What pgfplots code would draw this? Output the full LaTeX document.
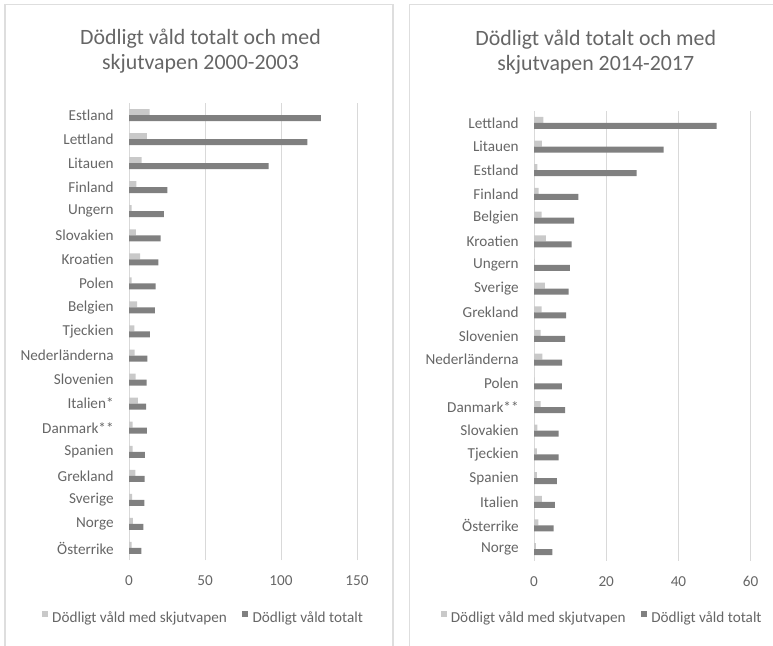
\documentclass[border=0pt]{standalone}
\usepackage{fontspec}
\setmainfont{Carlito}
\usepackage{pgfplots}
\usepackage{pgfplotstable}
\pgfplotsset{compat=1.18}
\definecolor{lightbar}{HTML}{C9C9C9}
\definecolor{darkbar}{HTML}{808080}
\definecolor{gridcol}{HTML}{D9D9D9}
\definecolor{bordercol}{HTML}{DEDEDE}
\definecolor{textcol}{HTML}{666666}

\pgfplotstableread{
y gun total
18 13.6 126.3
17 11.8 117.3
16 8.3 91.9
15 4.8 25.2
14 1.8 23.0
13 4.6 20.8
12 7.4 19.3
11 1.8 17.5
10 5.3 17.1
9 3.5 13.8
8 3.7 12.1
7 4.4 11.6
6 5.9 11.2
5 2.4 11.8
4 2.4 10.5
3 4.2 10.3
2 2.0 10.1
1 2.6 9.4
0 1.8 8.1
}\leftdata

\pgfplotstableread{
y gun total
18 2.6 50.6
17 2.2 35.9
16 0.9 28.4
15 1.3 12.3
14 2.1 11.1
13 3.3 10.4
12 0.2 9.9
11 3.0 9.6
10 2.1 8.9
9 1.8 8.6
8 2.3 7.8
7 0.2 7.7
6 1.8 8.6
5 0.9 6.8
4 0.8 6.8
3 0.8 6.3
2 2.2 5.8
1 1.2 5.4
0 0.5 5.1
}\rightdata

\pgfplotsset{
  panel/.style={
    scale only axis,
    anchor=south west,
    xbar,
    bar width=4.5pt,
    ymin=-0.5, ymax=18.5,
    xmin=0,
    ytick={0,...,18},
    axis line style={draw=none},
    major tick length=0pt,
    xmajorgrids=true,
    ymajorgrids=false,
    grid style={gridcol, line width=0.75pt},
    /pgf/number format/assume math mode=true,
    tick label style={font=\fontsize{11.4}{13}\selectfont, text=textcol},
    xticklabel style={yshift=-8pt},
    yticklabel style={xshift=-8pt},
    title style={align=center, anchor=center, font=\fontsize{16.4}{18.75}\selectfont, text=textcol},
    legend columns=2,
    legend style={draw=none, fill=none, anchor=center,
      font=\fontsize{11.4}{13}\selectfont, text=textcol,
      /tikz/every even column/.append style={column sep=10pt},
      nodes={inner sep=1.6pt}},
    legend image code/.code={\fill[##1,draw=none] (0pt,0.6pt) rectangle (4.5pt,5.1pt); \path (6pt,0.6pt);},
  },
  lightser/.style={fill=lightbar, draw=none, bar shift=2.25pt},
  darkser/.style={fill=darkbar, draw=none, bar shift=-2.25pt},
}

\begin{document}
\begin{tikzpicture}[x=1pt,y=1pt]
\clip (0,0) rectangle (579.75,483.75);
\draw[bordercol, line width=0.8pt] (3.75,-5) rectangle (294.75,480.4);
\draw[bordercol, line width=0.8pt] (306.9,-5) rectangle (600,480.4);

\begin{axis}[panel,
  at={(96.75pt,63.75pt)},
  width=171pt, height=342.75pt,
  xmax=150, xtick={0,50,100,150},
  yticklabels={Österrike,Norge,Sverige,Grekland,Spanien,Danmark**,Italien*,Slovenien,Nederländerna,Tjeckien,Belgien,Polen,Kroatien\hspace{2.5pt},Slovakien,Ungern,Finland,Litauen,Lettland,Estland},
  title={Dödligt våld totalt och med\\skjutvapen 2000-2003},
  title style={at={(0.3136,1.095)}},
  legend style={at={(0.327,-0.127)}},
]
\addplot[lightser] table[x=gun,y=y] {\leftdata};
\addplot[darkser] table[x=total,y=y] {\leftdata};
\legend{Dödligt våld med skjutvapen, Dödligt våld totalt}
\end{axis}

\begin{axis}[panel,
  at={(400.5pt,63pt)},
  width=162.5pt, height=337.5pt,
  xmax=60, xtick={0,20,40,60},
  yticklabels={Norge\hspace{2.5pt},Österrike,Italien,Spanien,Tjeckien,Slovakien,Danmark**,Polen,Nederländerna,Slovenien,Grekland,Sverige,Ungern,Kroatien\hspace{2.5pt},Belgien,Finland,Estland,Litauen,Lettland},
  title={Dödligt våld totalt och med\\skjutvapen 2014-2017},
  title style={at={(0.285,1.113)}},
  legend style={at={(0.315,-0.127)}},
]
\addplot[lightser] table[x=gun,y=y] {\rightdata};
\addplot[darkser] table[x=total,y=y] {\rightdata};
\legend{Dödligt våld med skjutvapen, Dödligt våld totalt}
\end{axis}
\end{tikzpicture}
\end{document}
